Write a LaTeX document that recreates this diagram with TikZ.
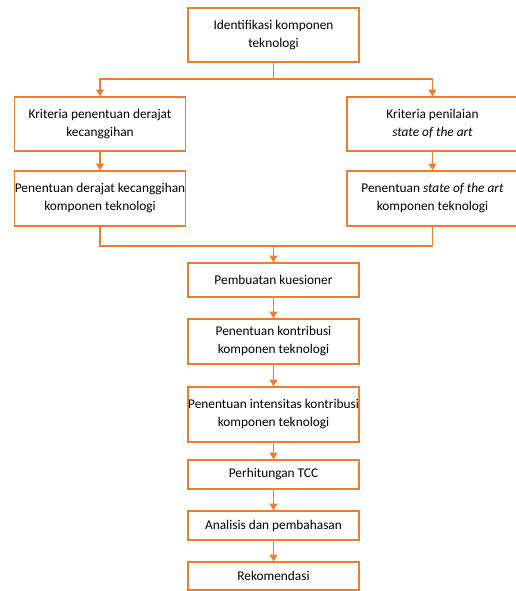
\documentclass[tikz,border=0pt]{standalone}
\usepackage{fontspec}
\setmainfont{Carlito}
\usetikzlibrary{arrows.meta}
\definecolor{jingga}{HTML}{ED7D31}
\tikzset{
  langkah/.style={draw=jingga,line width=1.1pt,align=center,inner sep=0pt,
    font=\fontsize{10}{13.5}\selectfont,minimum width=128.5pt},
  alur/.style={jingga,line width=1.1pt},
}

\begin{document}
\begin{tikzpicture}[>={Triangle[length=5pt,width=6pt]},x=0.75pt,y=-0.75pt]
  \useasboundingbox (0,0) rectangle (516,591);
  % tahap awal
  \node[langkah,minimum height=40.5pt] (ident) at (273.5,35) {Identifikasi komponen\\teknologi};
  \node[langkah,minimum height=40.5pt] (kritA) at (100,124) {Kriteria penentuan derajat\\kecanggihan};
  \node[langkah,minimum height=40.5pt] (kritB) at (432.5,124) {Kriteria penilaian\\\textit{state of the art}};
  \node[langkah,minimum height=41.25pt] (tentA) at (100,198.5) {Penentuan derajat kecanggihan\\komponen teknologi};
  \node[langkah,minimum height=41.25pt] (tentB) at (432.5,198.5) {Penentuan \textit{state of the art}\\komponen teknologi};
  % tahap lanjut
  \node[langkah,minimum height=25.5pt] (kues) at (273.5,280) {Pembuatan kuesioner};
  \node[langkah,minimum height=33.75pt] (kontrib) at (273.5,341.5) {Penentuan kontribusi\\komponen teknologi};
  \node[langkah,minimum height=41.25pt] (intens) at (273.5,414.5) {Penentuan intensitas kontribusi\\komponen teknologi};
  \node[langkah,minimum height=21.75pt] (tcc) at (273.5,474.5) {Perhitungan TCC};
  \node[langkah,minimum height=21.75pt] (analisis) at (273.5,525.5) {Analisis dan pembahasan};
  \node[langkah,minimum height=21pt] (rekom) at (273.5,576) {Rekomendasi};
  \coordinate (pisah) at (273.5,79);
  \coordinate (gabung) at (273.5,246);
  % panah
  \draw[alur] (ident.south) -- (pisah);
  \draw[alur,->] (pisah) -| (kritA.north);
  \draw[alur,->] (pisah) -| (kritB.north);
  \draw[alur,->] (kritA) -- (tentA);
  \draw[alur,->] (kritB) -- (tentB);
  \draw[alur] (tentA.south) |- (gabung);
  \draw[alur] (tentB.south) |- (gabung);
  \draw[alur,->] (gabung) -- (kues.north);
  \draw[alur,->] (kues) -- (kontrib);
  \draw[alur,->] (kontrib) -- (intens);
  \draw[alur,->] (intens) -- (tcc);
  \draw[alur,->] (tcc) -- (analisis);
  \draw[alur,->] (analisis) -- (rekom);
\end{tikzpicture}
\end{document}
